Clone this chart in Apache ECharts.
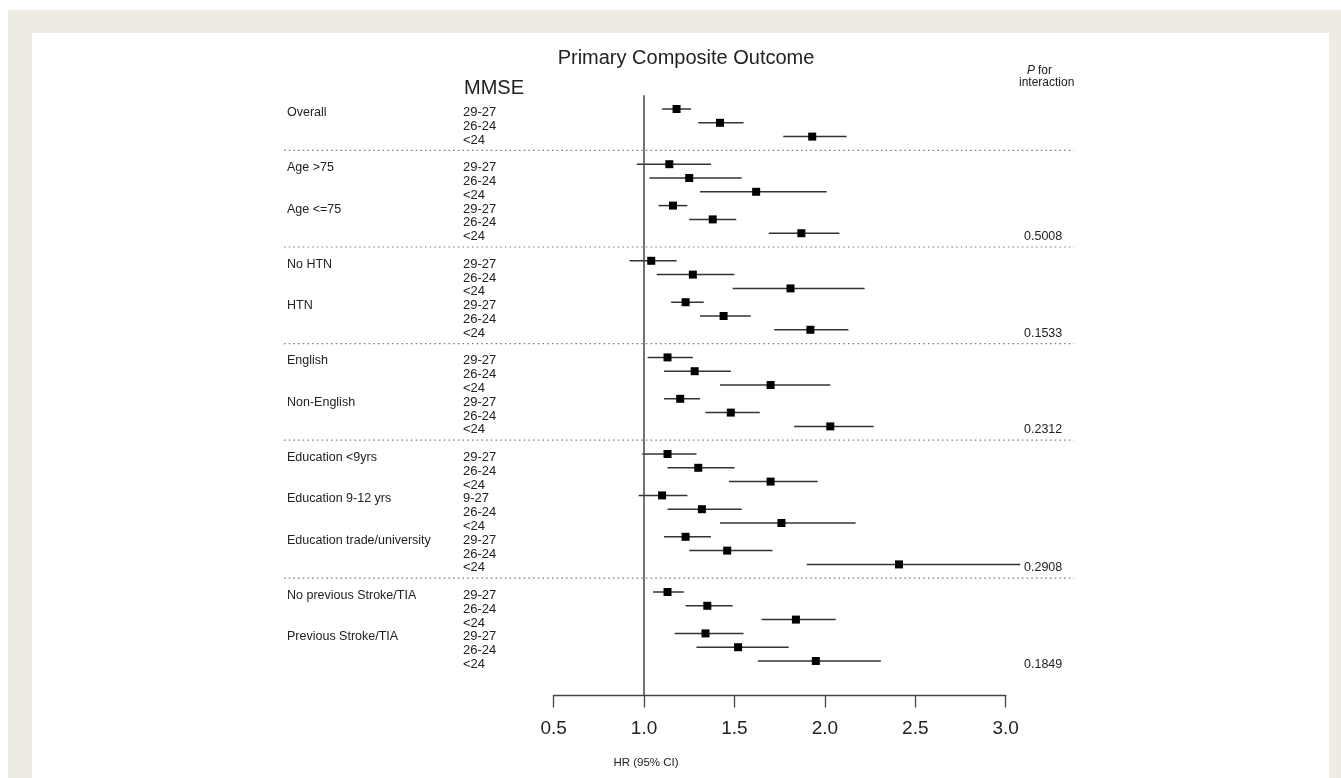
<!DOCTYPE html>
<html>
<head>
<meta charset="utf-8">
<title>Primary Composite Outcome</title>
<script src="https://cdn.jsdelivr.net/npm/echarts@6/dist/echarts.min.js"></script>
<style>
  body { margin: 0; background: #fff; }
  #frame { position: absolute; left: 8px; top: 10px; width: 1333px; height: 768px; background: #eeece2; }
  #panel { position: absolute; left: 32px; top: 33px; width: 1297px; height: 745px; background: #fff; }
  #main { position: absolute; left: 0; top: 0; width: 1341px; height: 778px; }
</style>
</head>
<body>
<div id="frame"></div>
<div id="panel"></div>
<div id="main"></div>
<script>
// data
var groups = ['Overall', 'Age >75', 'Age <=75', 'No HTN', 'HTN', 'English', 'Non-English',
  'Education <9yrs', 'Education 9-12 yrs', 'Education trade/university',
  'No previous Stroke/TIA', 'Previous Stroke/TIA'];
// how many groups go in each block between the dotted lines
var blockSizes = [1, 2, 2, 2, 3, 2];
var pValues = ['', '0.5008', '0.1533', '0.2312', '0.2908', '0.1849'];
var mmse = [
  ['29-27', '26-24', '<24'], ['29-27', '26-24', '<24'], ['29-27', '26-24', '<24'],
  ['29-27', '26-24', '<24'], ['29-27', '26-24', '<24'], ['29-27', '26-24', '<24'],
  ['29-27', '26-24', '<24'], ['29-27', '26-24', '<24'], ['9-27', '26-24', '<24'],
  ['29-27', '26-24', '<24'], ['29-27', '26-24', '<24'], ['29-27', '26-24', '<24']
];
var hr = [
  1.18, 1.42, 1.93,
  1.14, 1.25, 1.62,
  1.16, 1.38, 1.87,
  1.04, 1.27, 1.81,
  1.23, 1.44, 1.92,
  1.13, 1.28, 1.70,
  1.20, 1.48, 2.03,
  1.13, 1.30, 1.70,
  1.10, 1.32, 1.76,
  1.23, 1.46, 2.41,
  1.13, 1.35, 1.84,
  1.34, 1.52, 1.95
];
var lower = [
  1.10, 1.30, 1.77,
  0.96, 1.03, 1.31,
  1.08, 1.25, 1.69,
  0.92, 1.07, 1.49,
  1.15, 1.31, 1.72,
  1.02, 1.11, 1.42,
  1.11, 1.34, 1.83,
  0.99, 1.13, 1.47,
  0.97, 1.13, 1.42,
  1.11, 1.25, 1.90,
  1.05, 1.23, 1.65,
  1.17, 1.29, 1.63
];
var upper = [
  1.26, 1.55, 2.12,
  1.37, 1.54, 2.01,
  1.24, 1.51, 2.08,
  1.18, 1.50, 2.22,
  1.33, 1.59, 2.13,
  1.27, 1.48, 2.03,
  1.31, 1.64, 2.27,
  1.29, 1.50, 1.96,
  1.24, 1.54, 2.17,
  1.37, 1.71, 3.08,
  1.22, 1.49, 2.06,
  1.55, 1.80, 2.31
];
var xTicks = [0.5, 1.0, 1.5, 2.0, 2.5, 3.0];

(function () {
  'use strict';

  var FONT = '"Liberation Sans", Arial, Helvetica, sans-serif';
  var TXT = '#222';

  // lay out rows: 3 rows per group, one spare row for each dotted line
  var ciData = [];
  var groupLabels = [];
  var catLabels = [];
  var sepRows = [];
  var pLabels = [];
  var row = 0;
  var g = 0;
  blockSizes.forEach(function (n, b) {
    for (var k = 0; k < n; k++) {
      groupLabels.push([row, groups[g]]);
      for (var j = 0; j < 3; j++) {
        var i = g * 3 + j;
        ciData.push([hr[i], lower[i], upper[i], row]);
        catLabels.push([row, mmse[g][j]]);
        row++;
      }
      g++;
    }
    if (pValues[b]) pLabels.push([row - 1, pValues[b]]);
    if (b < blockSizes.length - 1) {
      sepRows.push([row]);
      row++;
    }
  });

  var myChart = echarts.init(document.getElementById('main'));

  function textSeries(data, x, size, align) {
    return {
      type: 'custom',
      data: data,
      clip: false,
      silent: true,
      renderItem: function (params, api) {
        var y = api.coord([1, api.value(0)])[1];
        return {
          type: 'text',
          x: x,
          y: y + 3.5,
          style: {
            text: data[params.dataIndex][1],
            fill: TXT,
            font: size + 'px ' + FONT,
            align: align || 'left',
            verticalAlign: 'middle'
          }
        };
      }
    };
  }

  var option = {
    animation: false,
    grid: { left: 553.6, right: 335.3, top: 95.2, bottom: 82.5 },
    xAxis: {
      type: 'value',
      min: xTicks[0],
      max: xTicks[xTicks.length - 1],
      interval: 0.5,
      axisLine: { show: true, onZero: false, lineStyle: { color: '#444', width: 1.3 } },
      axisTick: { show: true, length: 12, inside: false, lineStyle: { color: '#444', width: 1.3 } },
      axisLabel: {
        fontSize: 19, color: TXT, fontFamily: FONT, margin: 24,
        formatter: function (v) { return v.toFixed(1); }
      },
      splitLine: { show: false }
    },
    yAxis: {
      type: 'value',
      inverse: true,
      min: -1,
      max: 42.5,
      show: false
    },
    graphic: [
      { type: 'text', x: 686, y: 58, style: { text: 'Primary Composite Outcome', fill: TXT, font: '20px ' + FONT, align: 'center', verticalAlign: 'middle' } },
      { type: 'text', x: 464, y: 88, style: { text: 'MMSE', fill: TXT, font: '20px ' + FONT, align: 'left', verticalAlign: 'middle' } },
      { type: 'text', x: 1027, y: 71, style: { text: 'P', fill: TXT, font: 'italic 12px ' + FONT, align: 'left', verticalAlign: 'middle' } },
      { type: 'text', x: 1038, y: 71, style: { text: 'for', fill: TXT, font: '12px ' + FONT, align: 'left', verticalAlign: 'middle' } },
      { type: 'text', x: 1019, y: 83, style: { text: 'interaction', fill: TXT, font: '12px ' + FONT, align: 'left', verticalAlign: 'middle' } },
      { type: 'text', x: 646, y: 763, style: { text: 'HR (95% CI)', fill: TXT, font: '11.5px ' + FONT, align: 'center', verticalAlign: 'middle' } }
    ],
    series: [
      {
        // hazard ratio with confidence interval
        type: 'custom',
        data: ciData,
        clip: false,
        renderItem: function (params, api) {
          var r = api.value(3);
          var c = api.coord([api.value(0), r]);
          var a = api.coord([api.value(1), r]);
          var b = api.coord([api.value(2), r]);
          return {
            type: 'group',
            children: [
              { type: 'line', shape: { x1: a[0], y1: a[1], x2: b[0], y2: b[1] }, style: { stroke: '#333', lineWidth: 1.5 } },
              { type: 'rect', shape: { x: c[0] - 4, y: c[1] - 4, width: 8, height: 8 }, style: { fill: '#000' } }
            ]
          };
        },
        markLine: {
          silent: true,
          symbol: 'none',
          label: { show: false },
          lineStyle: { type: 'solid', color: '#444', width: 1.5 },
          data: [{ xAxis: 1.0 }]
        }
      },
      {
        // dotted separators between blocks
        type: 'custom',
        data: sepRows,
        clip: false,
        silent: true,
        renderItem: function (params, api) {
          var y = api.coord([1, api.value(0)])[1];
          return {
            type: 'line',
            shape: { x1: 284, y1: y, x2: 1074, y2: y },
            style: { stroke: '#777', lineWidth: 1.2, lineDash: [1.5, 3.2] }
          };
        }
      },
      textSeries(groupLabels, 287, 12.5),
      textSeries(catLabels, 463, 13),
      textSeries(pLabels, 1024, 12.5)
    ]
  };

  myChart.setOption(option);
}());
</script>
</body>
</html>
